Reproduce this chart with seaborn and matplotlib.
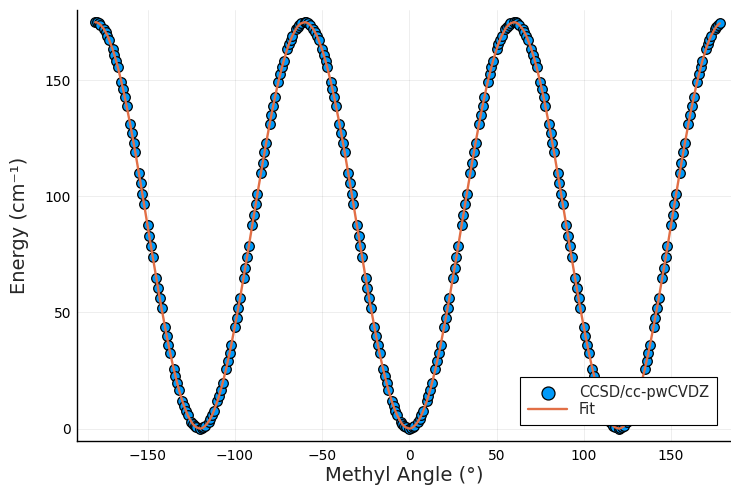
import matplotlib
matplotlib.use("Agg")
import matplotlib.pyplot as plt
import seaborn as sns
import pandas as pd

# Methyl rotation angles (degrees)
angle = [
    -180, -179, -178, -177, -175, -174, -173, -172, -170, -169, -168, -167,
    -165, -164, -163, -162, -160, -159, -158, -157, -155, -154, -153, -152,
    -150, -149, -148, -147, -145, -144, -143, -142, -140, -139, -138, -137,
    -135, -134, -133, -132, -130, -129, -128, -127, -125, -124, -123, -122,
    -120, -119, -118, -117, -115, -114, -113, -112, -110, -109, -108, -107,
    -105, -104, -103, -102, -100, -99, -98, -97, -95, -94, -93, -92,
    -90, -89, -88, -87, -85, -84, -83, -82, -80, -79, -78, -77,
    -75, -74, -73, -72, -70, -69, -68, -67, -65, -64, -63, -62,
    -60, -59, -58, -57, -55, -54, -53, -52, -50, -49, -48, -47,
    -45, -44, -43, -42, -40, -39, -38, -37, -35, -34, -33, -32,
    -30, -29, -28, -27, -25, -24, -23, -22, -20, -19, -18, -17,
    -15, -14, -13, -12, -10, -9, -8, -7, -5, -4, -3, -2,
    0, 1, 2, 3, 5, 6, 7, 8, 10, 11, 12, 13,
    15, 16, 17, 18, 20, 21, 22, 23, 25, 26, 27, 28,
    30, 31, 32, 33, 35, 36, 37, 38, 40, 41, 42, 43,
    45, 46, 47, 48, 50, 51, 52, 53, 55, 56, 57, 58,
    60, 61, 62, 63, 65, 66, 67, 68, 70, 71, 72, 73,
    75, 76, 77, 78, 80, 81, 82, 83, 85, 86, 87, 88,
    90, 91, 92, 93, 95, 96, 97, 98, 100, 101, 102, 103,
    105, 106, 107, 108, 110, 111, 112, 113, 115, 116, 117, 118,
    120, 121, 122, 123, 125, 126, 127, 128, 130, 131, 132, 133,
    135, 136, 137, 138, 140, 141, 142, 143, 145, 146, 147, 148,
    150, 151, 152, 153, 155, 156, 157, 158, 160, 161, 162, 163,
    165, 166, 167, 168, 170, 171, 172, 173, 175, 176, 177, 178,
]

# Energies (cm^-1)
energy = [
    175.0, 174.9, 174.5, 173.9, 172.0, 170.7, 169.2, 167.4, 163.3, 160.9, 158.3, 155.5,
    149.4, 146.1, 142.6, 138.9, 131.3, 127.2, 123.1, 118.9, 110.2, 105.7, 101.2, 96.7,
    87.5, 82.9, 78.4, 73.8, 64.9, 60.5, 56.1, 51.9, 43.8, 39.8, 36.1, 32.4,
    25.6, 22.5, 19.5, 16.7, 11.7, 9.5, 7.6, 5.8, 3.0, 1.9, 1.1, 0.5,
    0.0, 0.1, 0.5, 1.1, 3.0, 4.3, 5.8, 7.6, 11.7, 14.1, 16.7, 19.5,
    25.6, 29.0, 32.4, 36.1, 43.8, 47.8, 51.9, 56.1, 64.9, 69.3, 73.8, 78.4,
    87.5, 92.1, 96.7, 101.2, 110.2, 114.5, 118.9, 123.1, 131.3, 135.2, 138.9, 142.6,
    149.4, 152.5, 155.5, 158.3, 163.3, 165.5, 167.4, 169.2, 172.0, 173.1, 173.9, 174.5,
    175.0, 174.9, 174.5, 173.9, 172.0, 170.7, 169.2, 167.4, 163.3, 160.9, 158.3, 155.5,
    149.4, 146.1, 142.6, 138.9, 131.3, 127.2, 123.1, 118.9, 110.2, 105.7, 101.2, 96.7,
    87.5, 82.9, 78.4, 73.8, 64.9, 60.5, 56.1, 51.9, 43.8, 39.8, 36.1, 32.4,
    25.6, 22.5, 19.5, 16.7, 11.7, 9.5, 7.6, 5.8, 3.0, 1.9, 1.1, 0.5,
    0.0, 0.1, 0.5, 1.1, 3.0, 4.3, 5.8, 7.6, 11.7, 14.1, 16.7, 19.5,
    25.6, 29.0, 32.4, 36.1, 43.8, 47.8, 51.9, 56.1, 64.9, 69.3, 73.8, 78.4,
    87.5, 92.1, 96.7, 101.2, 110.2, 114.5, 118.9, 123.1, 131.3, 135.2, 138.9, 142.6,
    149.4, 152.5, 155.5, 158.3, 163.3, 165.5, 167.4, 169.2, 172.0, 173.1, 173.9, 174.5,
    175.0, 174.9, 174.5, 173.9, 172.0, 170.7, 169.2, 167.4, 163.3, 160.9, 158.3, 155.5,
    149.4, 146.1, 142.6, 138.9, 131.3, 127.2, 123.1, 118.9, 110.2, 105.7, 101.2, 96.7,
    87.5, 82.9, 78.4, 73.8, 64.9, 60.5, 56.1, 51.9, 43.8, 39.8, 36.1, 32.4,
    25.6, 22.5, 19.5, 16.7, 11.7, 9.5, 7.6, 5.8, 3.0, 1.9, 1.1, 0.5,
    0.0, 0.1, 0.5, 1.1, 3.0, 4.3, 5.8, 7.6, 11.7, 14.1, 16.7, 19.5,
    25.6, 29.0, 32.4, 36.1, 43.8, 47.8, 51.9, 56.1, 64.9, 69.3, 73.8, 78.4,
    87.5, 92.1, 96.7, 101.2, 110.2, 114.5, 118.9, 123.1, 131.3, 135.2, 138.9, 142.6,
    149.4, 152.5, 155.5, 158.3, 163.3, 165.5, 167.4, 169.2, 172.0, 173.1, 173.9, 174.5,
]

x_ticks = [-150, -100, -50, 0, 50, 100, 150]
y_ticks = [0, 50, 100, 150]
series_label = "CCSD/cc-pwCVDZ"
fit_label = "Fit"

df = pd.DataFrame({"angle": angle, "energy": energy})

sns.set_style("white")
plt.rcParams["font.family"] = ["DejaVu Sans"]

fig = plt.figure(figsize=(7.31, 4.88), dpi=100)
ax = fig.add_axes([0.1047, 0.0969, 0.8953, 0.8826])

sns.scatterplot(data=df, x="angle", y="energy", ax=ax, color="#009AFA",
                edgecolor="black", linewidth=0.9, s=48, zorder=2,
                label=series_label)
sns.lineplot(data=df, x="angle", y="energy", ax=ax, color="#E26F46",
             linewidth=1.7, sort=False, zorder=3, label=fit_label)

ax.set_xlim(-190.7, 184.4)
ax.set_ylim(-5.25, 180.25)
ax.set_xticks(x_ticks)
ax.set_yticks(y_ticks)
ax.set_xticklabels([str(t).replace("-", "\u2212") for t in x_ticks])
ax.grid(True, color="black", alpha=0.08, linewidth=0.6)
ax.tick_params(direction="in", length=4, width=0.8, labelsize=10,
               colors="black", pad=4)
ax.tick_params(axis="x", pad=6)
for side in ["top", "right"]:
    ax.spines[side].set_visible(False)
for side in ["left", "bottom"]:
    ax.spines[side].set_color("black")
    ax.spines[side].set_linewidth(1.0)

ax.set_xlabel("Methyl Angle (°)", fontsize=14, labelpad=2)
ax.set_ylabel("Energy (cm⁻¹)", fontsize=14, labelpad=11)

leg = ax.legend(loc="lower right", bbox_to_anchor=(0.979, 0.036),
                borderaxespad=0, fontsize=10.5, frameon=True, fancybox=False,
                edgecolor="black", framealpha=1, handlelength=2.7,
                handletextpad=0.8, borderpad=0.55, labelspacing=0.15,
                markerscale=1.35)
leg.get_frame().set_linewidth(0.8)

fig.savefig("out.png", dpi=100)
